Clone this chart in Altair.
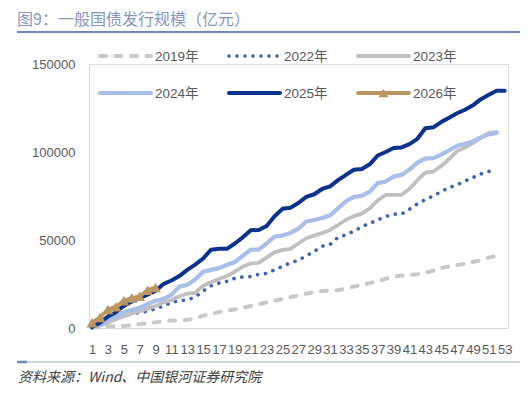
import altair as alt
import pandas as pd

weeks_label = list(range(1, 54, 2))

y2019 = [300, 600, 800, 1000, 1200, 1500, 2200, 2700, 3200, 3800, 4200, 4400, 4600, 5500,
         7000, 8000, 9000, 10000, 10500, 11500, 12500, 13500, 14500, 15500, 16500, 17500,
         18500, 19500, 20500, 21000, 21200, 21500, 22500, 23500, 24500, 25500, 26500, 28000,
         29200, 29800, 30100, 30500, 31500, 32500, 34000, 35000, 35800, 36500, 37500, 38500,
         40000, 41000]
y2022 = [0, 2500, 4500, 5500, 6800, 8000, 8800, 9500, 11000, 12500, 14500, 15500, 16000,
         17500, 21000, 24000, 25500, 26500, 28300, 29000, 29200, 30500, 31000, 33000, 35000,
         37000, 38500, 41000, 43500, 46500, 47500, 51500, 52900, 55000, 57500, 59500, 61400,
         63300, 64700, 64700, 67500, 70500, 73000, 75000, 77500, 79800, 81300, 83500, 85500,
         87500, 89000, 89500]
y2023 = [300, 1500, 3000, 5000, 6500, 8300, 9500, 11000, 12500, 14500, 15900, 18000, 19500,
         20000, 24000, 26000, 27800, 29500, 32000, 34900, 36700, 37000, 40000, 43000, 44400,
         45000, 48000, 51000, 52500, 54000, 55700, 58500, 61500, 63500, 65000, 68000, 72500,
         75600, 75600, 75700, 79000, 84000, 88300, 88900, 92000, 96000, 100500, 102500,
         105000, 108000, 110800, 111300]
y2024 = [500, 2000, 4000, 6500, 9000, 10200, 11500, 13500, 15500, 16500, 18800, 23500, 24500,
         27500, 32000, 33000, 34000, 35800, 37500, 41000, 44500, 44500, 48000, 51900, 52500,
         54000, 56500, 60500, 61400, 62500, 64000, 68000, 72000, 74500, 75100, 77500, 82300,
         83200, 86000, 87000, 90000, 94000, 96200, 96500, 98500, 101000, 103500, 104700,
         106000, 108300, 110000, 110800]
y2025 = [500, 3000, 6500, 9000, 12500, 15000, 17000, 19000, 21000, 25000, 27000, 29500, 33000,
         36000, 39500, 44500, 45000, 45000, 48000, 51500, 55500, 55700, 58000, 63500, 67700,
         68300, 71000, 74500, 76000, 79000, 80500, 84000, 87000, 89900, 90300, 93000, 98000,
         100000, 102300, 102600, 104500, 107500, 113500, 114000, 117000, 119500, 122000,
         124000, 126500, 130000, 132500, 134800, 134800]
y2026 = [3000, 6000, 10500, 12000, 15500, 17000, 18000, 21500, 23000]

series_names = ["2019年", "2022年", "2023年", "2024年", "2025年", "2026年"]
series_values = [y2019, y2022, y2023, y2024, y2025, y2026]

rows = []
for name, vals in zip(series_names, series_values):
    for i, v in enumerate(vals):
        rows.append({"series": name, "week": i + 1, "value": v})
df = pd.DataFrame(rows)

FONT = "Liberation Sans, Noto Sans CJK SC"
styles = {
    "2019年": dict(color="#C9C9C9", strokeWidth=4, strokeDash=[6, 9.5], strokeCap="round"),
    "2022年": dict(color="#3B64B7", strokeWidth=3.6, strokeDash=[0.1, 7.9], strokeCap="round"),
    "2023年": dict(color="#C0C0C0", strokeWidth=3.8, strokeCap="round"),
    "2024年": dict(color="#A7BFE9", strokeWidth=4.2, strokeCap="round"),
    "2025年": dict(color="#0B318F", strokeWidth=4, strokeCap="round"),
    "2026年": dict(color="#BA9660", strokeWidth=3.8, strokeCap="round"),
}

W, H = 419, 264
xscale = alt.Scale(domain=[0.62, 53.42], nice=False, zero=False)
yscale = alt.Scale(domain=[0, 150000], nice=False)
xaxis = alt.Axis(values=weeks_label, title=None, format="d", ticks=False,
                 domainColor="#D9D9D9", labelColor="#595959", labelFontSize=13,
                 labelFont=FONT, labelPadding=15, labelOverlap=False,
                 labelFlush=False, grid=False)
yaxis = alt.Axis(values=[0, 50000, 100000, 150000], title=None, format="d",
                 ticks=False, domainColor="#D9D9D9", labelColor="#595959",
                 labelFontSize=13, labelFont=FONT, labelPadding=14, grid=False,
                 labelOverlap=False)

base = alt.Chart(df)
layers = []
for i, name in enumerate(series_names):
    st = styles[name]
    line = base.transform_filter(alt.datum.series == name).mark_line(
        strokeJoin="round", **st
    ).encode(
        x=alt.X("week:Q", scale=xscale, axis=xaxis),
        y=alt.Y("value:Q", scale=yscale, axis=yaxis),
    )
    layers.append(line)
    if name == "2026年":
        pts = base.transform_filter(alt.datum.series == name).mark_point(
            shape="triangle-up", filled=True, size=120, color=st["color"], opacity=1
        ).encode(x=alt.X("week:Q", scale=xscale, axis=xaxis),
                 y=alt.Y("value:Q", scale=yscale, axis=yaxis))
        layers.append(pts)

one = pd.DataFrame({"k": [0]})
# custom legend
for i, name in enumerate(series_names):
    st = dict(styles[name])
    col, row = i % 3, i // 3
    x0 = 11 + col * 129
    x1 = x0 + 51
    yy = -8 + row * 37
    rule = alt.Chart(one).mark_rule(**st).encode(
        x=alt.value(x0), x2=alt.value(x1), y=alt.value(yy))
    layers.append(rule)
    if name == "2026年":
        tri = alt.Chart(one).mark_point(shape="triangle-up", filled=True, size=100,
                                        color=st["color"], opacity=1).encode(
            x=alt.value((x0 + x1) / 2), y=alt.value(yy))
        layers.append(tri)
    txt = alt.Chart(one).mark_text(align="left", baseline="middle", fontSize=13.5,
                                   font=FONT, color="#595959").encode(
        x=alt.value(x1 + 4), y=alt.value(yy + 1), text=alt.value(name))
    layers.append(txt)

# title, rules and footer
title = alt.Chart(one).mark_text(align="left", baseline="middle", fontSize=16,
                                 font="Noto Sans CJK SC", color="#8396C0").encode(
    x=alt.value(-72), y=alt.value(-44), text=alt.value("图9：一般国债发行规模（亿元）"))
title_rule = alt.Chart(one).mark_rule(color="#6F88BC", strokeWidth=2).encode(
    x=alt.value(-72), x2=alt.value(431), y=alt.value(-32))
foot_rule = alt.Chart(one).mark_rule(color="#9FB0D3", strokeWidth=1).encode(
    x=alt.value(-72), x2=alt.value(431), y=alt.value(298))
foot_rule2 = alt.Chart(one).mark_rule(color="#6F88BC", strokeWidth=2.5).encode(
    x=alt.value(-72), x2=alt.value(-62), y=alt.value(298))
footer = alt.Chart(one).mark_text(align="left", baseline="middle", fontSize=14,
                                  font="Noto Sans CJK SC", fontStyle="italic",
                                  color="#404040").encode(
    x=alt.value(-71), y=alt.value(314), text=alt.value("资料来源：Wind、中国银河证券研究院"))
layers += [title, title_rule, foot_rule, foot_rule2, footer]

chart = alt.layer(*layers).properties(
    width=W, height=H,
    autosize=alt.AutoSizeParams(type="none"),
    padding={"left": 81, "top": 56, "right": 12, "bottom": 59},
).configure_view(stroke=None).configure_axis(labelOverlap=False).configure(background="white")

chart.save("out.html", embed_options={"renderer": "svg", "actions": False})
